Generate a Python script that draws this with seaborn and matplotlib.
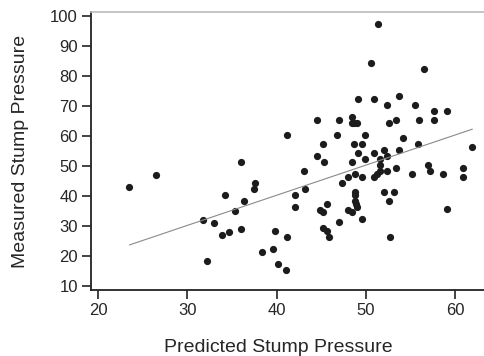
import seaborn as sns
import pandas as pd
import matplotlib.pyplot as plt

# Points
predicted = [23.5, 26.5, 31.75, 32.2, 33.0, 34.2, 33.9, 34.6, 35.3, 36.0,
             36.0, 36.3, 37.6, 37.5, 38.4, 39.8, 39.55, 40.1, 41.0, 41.2,
             41.2, 42.0, 42.0, 43.1, 43.2, 44.5, 44.5, 44.85, 45.2, 45.2,
             45.3, 45.2, 45.6, 45.6, 45.9, 46.7, 47.0, 47.0, 47.35, 48.0,
             48.0, 48.4, 48.4, 48.4, 48.4, 48.7, 49.0, 48.7, 48.8, 48.8,
             48.8, 48.8, 48.85, 49.0, 49.1, 49.1, 49.5, 49.5, 49.5, 49.85,
             49.85, 50.5, 50.9, 50.9, 50.9, 51.3, 51.2, 51.6, 51.6, 51.6,
             52.0, 52.0, 52.3, 52.3, 52.3, 52.6, 52.6, 52.7, 53.1, 53.3,
             53.4, 53.7, 53.7, 54.1, 55.1, 55.5, 55.8, 55.9, 56.5, 56.9,
             57.2, 57.6, 57.65, 58.6, 59.1, 59.1, 60.85, 60.85, 61.9]
measured = [43.0, 47.1, 32.1, 18.2, 31.1, 40.2, 27.1, 28.1, 35.1, 51.2,
            29.1, 38.2, 44.3, 42.2, 21.2, 28.3, 22.2, 17.2, 15.4, 60.2,
            26.3, 40.2, 36.3, 48.2, 42.3, 65.2, 53.3, 35.3, 34.5, 57.2,
            51.2, 29.4, 37.3, 28.4, 26.3, 60.2, 65.2, 31.4, 44.3, 46.3,
            35.4, 34.5, 51.2, 66.2, 64.2, 64.2, 64.2, 57.2, 47.3, 41.2,
            40.2, 38.3, 37.3, 36.3, 72.3, 54.2, 57.2, 46.3, 32.4, 60.2,
            52.3, 84.2, 72.3, 54.2, 46.3, 97.2, 47.3, 52.3, 50.3, 48.3,
            55.2, 41.4, 70.2, 53.3, 48.3, 64.2, 38.3, 26.4, 41.4, 49.2,
            65.2, 73.2, 55.2, 59.3, 47.3, 70.2, 57.3, 65.2, 82.3, 50.3,
            48.3, 68.3, 65.2, 47.3, 68.3, 35.5, 49.2, 46.4, 56.4]

df = pd.DataFrame({'Predicted': predicted, 'Measured': measured})

sns.set_style('white')
plt.rcParams['font.family'] = ['Liberation Sans', 'DejaVu Sans']

fig = plt.figure(figsize=(4.84, 3.56), dpi=100)
ax = fig.add_axes([0.188, 0.185, 0.812, 0.781])

sns.regplot(x='Predicted', y='Measured', data=df, ax=ax, ci=None, truncate=True,
            scatter_kws={'s': 27, 'color': '#1c1c1c', 'linewidths': 0, 'alpha': 1},
            line_kws={'color': '#8a8a8a', 'linewidth': 0.8})

ax.set_xlim(19.2, 63.2)
ax.set_ylim(8.6, 101.3)
ax.set_xticks([20, 30, 40, 50, 60])
ax.set_yticks(range(10, 101, 10))
ax.tick_params(direction='out', length=6.5, width=1.2, color='#222222',
               labelsize=12, pad=3, left=True, bottom=True)
ax.set_xlabel('Predicted Stump Pressure', fontsize=14, labelpad=15)
ax.set_ylabel('Measured Stump Pressure', fontsize=14, labelpad=15)
ax.xaxis.label.set_x(0.477)

ax.spines['right'].set_visible(False)
ax.spines['left'].set_color('#222222')
ax.spines['bottom'].set_color('#222222')
ax.spines['left'].set_linewidth(1.3)
ax.spines['bottom'].set_linewidth(1.3)
ax.spines['top'].set_color('#bbbbbb')
ax.spines['top'].set_linewidth(1.2)

fig.savefig('out.png', dpi=100)
